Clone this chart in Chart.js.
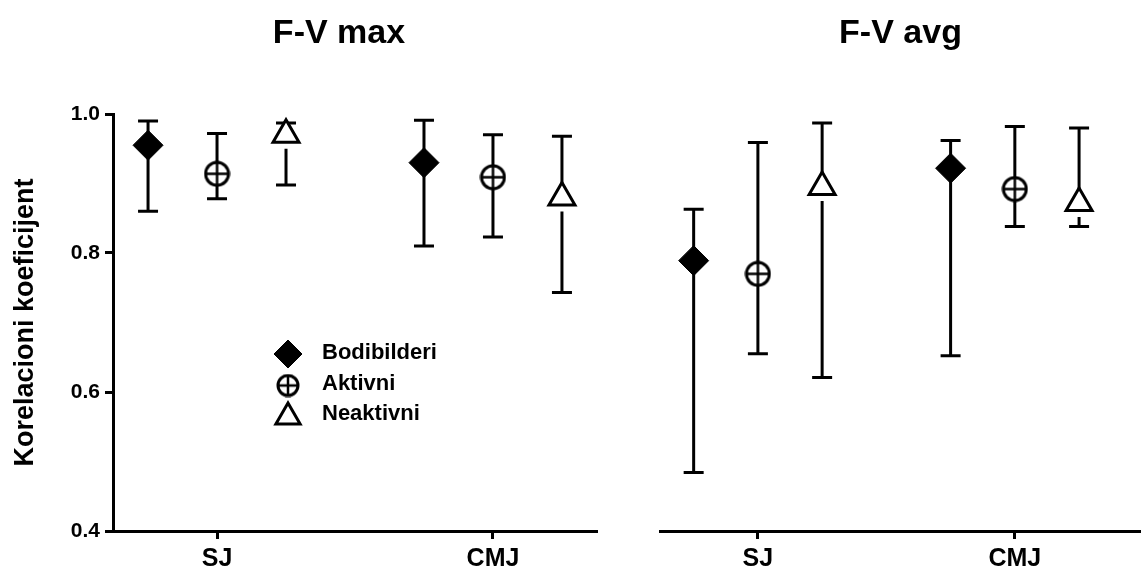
<!DOCTYPE html>
<html>
<head>
<meta charset="utf-8">
<script src="https://cdn.jsdelivr.net/npm/chart.js@4.4.1/dist/chart.umd.min.js"></script>
<style>
  html, body { margin: 0; padding: 0; background: #fff; overflow: hidden; }
  #wrap { position: relative; width: 1141px; height: 573px; overflow: hidden; }
  canvas { position: absolute; top: 0; }
</style>
</head>
<body>
<div id="wrap">
  <canvas id="avgChart" width="541" height="573" style="left:630px"></canvas>
  <canvas id="maxChart" width="678" height="573" style="left:0"></canvas>
</div>
<script>
const tests = ['SJ', 'CMJ'];
const groups = ['Bodibilderi', 'Aktivni', 'Neaktivni'];
const yTicks = [0.4, 0.6, 0.8, 1.0];

// rows: Bodibilderi, Aktivni, Neaktivni / columns: SJ, CMJ
const maxMean = [[0.955, 0.930], [0.914, 0.909], [0.970, 0.880]];
const maxLow  = [[0.860, 0.810], [0.878, 0.823], [0.898, 0.743]];
const maxHigh = [[0.990, 0.991], [0.972, 0.970], [0.987, 0.968]];

const avgMean = [[0.789, 0.922], [0.770, 0.892], [0.895, 0.872]];
const avgLow  = [[0.484, 0.652], [0.655, 0.838], [0.621, 0.838]];
const avgHigh = [[0.863, 0.962], [0.959, 0.982], [0.987, 0.980]];

const FONT = '"Liberation Sans", Arial, Helvetica, sans-serif';
Chart.defaults.font.family = FONT;
Chart.defaults.color = '#000';

// circle with a cross, like the prism symbol
function plusCircle(size) {
    const c = document.createElement('canvas');
    c.width = c.height = size;
    const g = c.getContext('2d');
    const m = size / 2;
    const r = m - 2;
    g.fillStyle = '#fff';
    g.strokeStyle = '#000';
    g.lineWidth = 3;
    g.beginPath();
    g.arc(m, m, r, 0, Math.PI * 2);
    g.fill();
    g.stroke();
    g.lineWidth = 2.5;
    g.beginPath();
    g.moveTo(m - r, m); g.lineTo(m + r, m);
    g.moveTo(m, m - r); g.lineTo(m, m + r);
    g.stroke();
    return c;
}

const offsets = [-0.25, 0, 0.25];
const markers = [
    { pointStyle: 'rectRot', pointRadius: 15, backgroundColor: '#000', borderColor: '#000', borderWidth: 1, gapBelow: 0,
      legend: { pointStyle: 'rectRot', radius: 14, fill: '#000', borderWidth: 1, dy: 1 } },
    { pointStyle: plusCircle(27), pointRadius: 13, backgroundColor: '#fff', borderColor: '#000', borderWidth: 3, gapBelow: 0,
      legend: { pointStyle: plusCircle(24), radius: 12, fill: '#fff', borderWidth: 3, dy: 2 } },
    { pointStyle: 'triangle', pointRadius: 15, backgroundColor: '#fff', borderColor: '#000', borderWidth: 3, gapBelow: 14,
      legend: { pointStyle: 'triangle', radius: 14, fill: '#fff', borderWidth: 3, dy: 3 } }
];

const errorBars = {
    id: 'errorBars',
    beforeDatasetsDraw(chart) {
        const { ctx } = chart;
        const y = chart.scales.y;
        ctx.save();
        ctx.strokeStyle = '#000';
        ctx.lineWidth = 3;
        chart.data.datasets.forEach((ds, i) => {
            chart.getDatasetMeta(i).data.forEach((pt, j) => {
                const d = ds.data[j];
                const top = y.getPixelForValue(d.high);
                const bot = y.getPixelForValue(d.low);
                ctx.beginPath();
                ctx.moveTo(pt.x, top);
                ctx.lineTo(pt.x, pt.y);
                const start = Math.min(pt.y + ds.gapBelow, bot);
                ctx.moveTo(pt.x, start);
                ctx.lineTo(pt.x, bot);
                ctx.moveTo(pt.x - 10, top); ctx.lineTo(pt.x + 10, top);
                ctx.moveTo(pt.x - 10, bot); ctx.lineTo(pt.x + 10, bot);
                ctx.stroke();
            });
        });
        ctx.restore();
    }
};

const insetLegend = {
    id: 'insetLegend',
    afterDatasetsDraw(chart) {
        const { ctx, chartArea } = chart;
        const x0 = chartArea.left + 175;
        const y0 = chartArea.top + 239;
        ctx.save();
        ctx.font = 'bold 22px ' + FONT;
        ctx.textBaseline = 'middle';
        ctx.textAlign = 'left';
        chart.data.datasets.forEach((ds, i) => {
            const lg = markers[i].legend;
            const yy = y0 + i * 30.5;
            ctx.fillStyle = lg.fill;
            ctx.strokeStyle = '#000';
            ctx.lineWidth = lg.borderWidth;
            Chart.helpers.drawPoint(ctx, { pointStyle: lg.pointStyle, radius: lg.radius, rotation: 0, borderWidth: lg.borderWidth }, x0, yy + lg.dy);
            ctx.fillStyle = '#000';
            ctx.fillText(ds.label, x0 + 34, yy);
        });
        ctx.restore();
    }
};

function makeChart(id, title, mean, low, high, xMin, xMax, showY, pad, rightGap, extra) {
    const datasets = groups.map((name, g) => ({
        label: name,
        data: tests.map((t, k) => ({ x: k + 1 + offsets[g], y: mean[g][k], low: low[g][k], high: high[g][k] })),
        pointStyle: markers[g].pointStyle,
        pointRadius: markers[g].pointRadius,
        backgroundColor: markers[g].backgroundColor,
        borderColor: markers[g].borderColor,
        borderWidth: markers[g].borderWidth,
        gapBelow: markers[g].gapBelow,
        clip: false
    }));

    const axisGrid = { display: true, drawOnChartArea: false, drawTicks: true, tickLength: 8, tickWidth: 3, tickColor: '#000' };
    const scales = {
        x: {
            type: 'linear',
            min: xMin,
            max: xMax,
            afterBuildTicks: (s) => { s.ticks = tests.map((t, k) => ({ value: k + 1 })); },
            afterFit: (s) => { s.height = 42; },
            ticks: {
                autoSkip: false,
                maxRotation: 0,
                padding: 5,
                color: '#000',
                font: { size: 25, weight: 'bold' },
                callback: (v) => tests[Math.round(v) - 1]
            },
            grid: axisGrid,
            border: { display: true, color: '#000', width: 3 }
        },
        y: {
            type: 'linear',
            display: showY,
            min: 0.4,
            max: 1.0,
            afterBuildTicks: (s) => { s.ticks = yTicks.map((v) => ({ value: v })); },
            afterFit: (s) => { if (showY) s.width = 113; },
            ticks: {
                padding: 5,
                color: '#000',
                font: { size: 21, weight: 'bold' },
                callback: (v) => Number(v).toFixed(1)
            },
            title: {
                display: true,
                text: 'Korelacioni koeficijent',
                color: '#000',
                font: { size: 27, weight: 'bold' },
                padding: { top: 9, bottom: 0 }
            },
            grid: axisGrid,
            border: { display: true, color: '#000', width: 3 }
        }
    };
    if (rightGap) {
        // empty space right of the plot, so the title centres over the whole panel
        scales.gap = {
            type: 'linear',
            position: 'right',
            display: true,
            afterFit: (s) => { s.width = rightGap; },
            ticks: { display: false },
            grid: { display: false },
            border: { display: false }
        };
    }

    return new Chart(document.getElementById(id), {
        type: 'scatter',
        data: { datasets },
        options: {
            responsive: false,
            animation: false,
            events: [],
            layout: { padding: { left: pad, right: pad, top: 0, bottom: 0 } },
            plugins: {
                legend: { display: false },
                tooltip: { enabled: false },
                title: {
                    display: true,
                    text: title,
                    color: '#000',
                    font: { size: 34, weight: 'bold' },
                    padding: { top: 13.6, bottom: 59.6 }
                }
            },
            scales
        },
        plugins: [errorBars].concat(extra)
    });
}

makeChart('maxChart', 'F-V max', maxMean, maxLow, maxHigh, 0.623, 2.377, true, 0, 81, [insetLegend]);
makeChart('avgChart', 'F-V avg', avgMean, avgLow, avgHigh, 0.619, 2.491, false, 30, 0, []);
</script>
</body>
</html>
